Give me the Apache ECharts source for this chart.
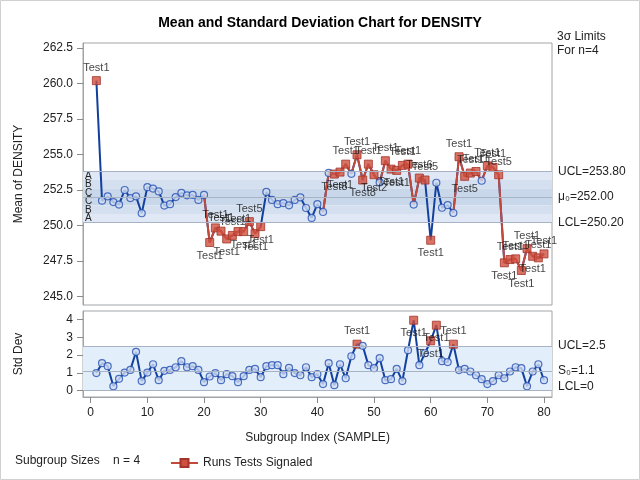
<!DOCTYPE html>
<html>
<head>
<meta charset="utf-8">
<script src="https://cdn.jsdelivr.net/npm/echarts@6/dist/echarts.min.js"></script>
<style>
  html, body { margin: 0; padding: 0; background: #fff; }
  #main { width: 640px; height: 480px; }
</style>
</head>
<body>
<div id="main"></div>
<script>
// 子组均值 (1..80)
var means = [
  260.2, 251.75, 252.05, 251.65, 251.47, 252.5, 251.93, 252.05, 250.86, 252.7,
  252.6, 252.4, 251.4, 251.5, 252.0, 252.3, 252.12, 252.15, 251.8, 252.15,
  248.8, 249.83, 249.6, 249.05, 249.3, 249.57, 249.57, 250.27, 249.43, 249.92,
  252.36, 251.8, 251.5, 251.58, 251.42, 251.8, 251.98, 251.23, 250.53, 251.5,
  250.95, 253.7, 253.62, 253.76, 254.32, 253.64, 254.98, 253.2, 254.32, 253.57,
  253.03, 254.56, 253.97, 253.88, 254.23, 254.32, 251.47, 253.34, 253.2, 248.96,
  253.01, 251.25, 251.44, 250.88, 254.84, 253.46, 253.69, 253.8, 253.15, 254.2,
  254.09, 253.57, 247.37, 247.6, 247.65, 246.83, 248.37, 247.83, 247.72, 248.0
];

// 子组标准差 (1..80)
var stds = [
  0.98, 1.54, 1.37, 0.24, 0.66, 1.01, 1.16, 2.18, 0.53, 1.01,
  1.48, 0.58, 1.11, 1.16, 1.31, 1.65, 1.31, 1.37, 1.16, 0.47,
  0.79, 0.98, 0.58, 0.92, 0.81, 0.47, 0.81, 1.16, 1.22, 0.75,
  1.37, 1.43, 1.43, 0.92, 1.28, 0.98, 0.86, 1.31, 0.75, 0.92,
  0.36, 1.54, 0.30, 1.48, 0.69, 1.93, 2.61, 2.52, 1.43, 1.26,
  1.82, 0.58, 0.64, 1.22, 0.53, 2.27, 3.96, 1.43, 2.10, 2.80,
  3.68, 1.65, 1.60, 2.61, 1.15, 1.22, 1.07, 0.86, 0.64, 0.36,
  0.53, 0.86, 0.69, 1.07, 1.31, 1.26, 0.24, 1.07, 1.48, 0.58
];

// 检验信号: [子组号, 检验名]
var meanSignals = [
  [1, 'Test1'], [21, 'Test1'], [22, 'Test1'], [23, 'Test1'], [24, 'Test1'],
  [25, 'Test1'], [26, 'Test1'], [27, 'Test1'], [28, 'Test5'], [29, 'Test1'],
  [30, 'Test1'], [43, 'Test8'], [44, 'Test1'], [45, 'Test1'], [47, 'Test1'],
  [48, 'Test8'], [49, 'Test1'], [50, 'Test2'], [52, 'Test1'], [53, 'Test1'],
  [54, 'Test1'], [55, 'Test1'], [56, 'Test1'], [58, 'Test6'], [59, 'Test5'],
  [60, 'Test1'], [65, 'Test1'], [66, 'Test5'], [67, 'Test1'], [68, 'Test1'],
  [70, 'Test1'], [71, 'Test1'], [72, 'Test5'], [73, 'Test1'], [74, 'Test1'],
  [75, 'Test1'], [76, 'Test1'], [77, 'Test1'], [78, 'Test1'], [79, 'Test1'],
  [80, 'Test1']
];
var stdSignals = [[47, 'Test1'], [57, 'Test1'], [60, 'Test1'], [61, 'Test1'], [64, 'Test1']];

// 被判异常的连续段(红线)
var meanRuns = [[20, 30], [41, 59], [64, 80]];

// 控制限
var meanLCL = 250.2, meanCenter = 252.0, meanUCL = 253.8;
var stdLCL = 0, stdCenter = 1.1, stdUCL = 2.5;

// 刻度
var meanTicks = [245, 247.5, 250, 252.5, 255, 257.5, 260, 262.5];
var stdTicks = [0, 1, 2, 3, 4];
var xTicks = [0, 10, 20, 30, 40, 50, 60, 70, 80];

// 标签放在点下方的子组
var meanBelow = [21, 24, 27, 29, 30, 43, 44, 48, 50, 53, 54, 60, 66, 73, 76, 78];
var stdBelow = [57, 60, 61];

var FONT = 'Liberation Sans, Arial, sans-serif';
var BLUE = '#12409f';
var RED = '#c4493a';

function lookup(list, i) {
  for (var k = 0; k < list.length; k++) if (list[k][0] === i) return list[k][1];
  return null;
}

function pointData(vals, signals, below) {
  return vals.map(function(v, k) {
    var i = k + 1;
    var t = lookup(signals, i);
    if (!t) {
      return {
        value: [i, v], symbol: 'circle', symbolSize: 7,
        itemStyle: { color: '#cfdcf2', borderColor: '#2650b2', borderWidth: 1.2 }
      };
    }
    return {
      value: [i, v], symbol: 'rect', symbolSize: 8,
      itemStyle: { color: '#d0503f', borderColor: '#a3352a', borderWidth: 1 },
      label: {
        show: true, formatter: t, position: below.indexOf(i) >= 0 ? 'bottom' : 'top',
        distance: 3, fontSize: 11, color: '#111', fontFamily: FONT
      }
    };
  });
}

function inRun(i) {
  return meanRuns.some(function(r) { return i >= r[0] && i <= r[1]; });
}

var meanLine = means.map(function(v, k) { return [k + 1, v]; });
var meanRed = means.map(function(v, k) { return [k + 1, inRun(k + 1) ? v : '-']; });
var stdLine = stds.map(function(v, k) { return [k + 1, v]; });

// 分区 A/B/C
var sigma = (meanUCL - meanCenter) / 3;
var zoneColors = { A: '#dfe8f4', B: '#d4e0ef', C: '#c9d7ea' };
function zone(name, lo, hi) {
  return [
    { name: name, yAxis: lo, itemStyle: { color: zoneColors[name] } },
    { yAxis: hi }
  ];
}
var zones = [
  zone('A', meanCenter + 2 * sigma, meanUCL),
  zone('B', meanCenter + sigma, meanCenter + 2 * sigma),
  zone('C', meanCenter, meanCenter + sigma),
  zone('C', meanCenter - sigma, meanCenter),
  zone('B', meanCenter - 2 * sigma, meanCenter - sigma),
  zone('A', meanLCL, meanCenter - 2 * sigma)
];

var limitLabel = { show: true, position: 'end', distance: 6, fontSize: 12, color: '#222', fontFamily: FONT };
var limitLine = { color: '#a7b3c4', width: 1, type: 'solid' };

var axisText = { fontSize: 12, color: '#222', fontFamily: FONT };
var tickStyle = { show: true, inside: false, length: 6, lineStyle: { color: '#8a8a8a' } };

var chart = echarts.init(document.getElementById('main'));

var option = {
  animation: false,
  backgroundColor: '#fff',
  textStyle: { fontFamily: FONT },
  title: {
    text: 'Mean and Standard Deviation Chart for DENSITY',
    left: 'center', top: 11,
    textStyle: { fontSize: 14, fontWeight: 'bold', color: '#000', fontFamily: FONT }
  },
  grid: [
    { left: 83, top: 43, width: 469, height: 262, show: true, borderColor: '#a0a4a8', borderWidth: 1, backgroundColor: '#fff' },
    { left: 83, top: 311, width: 469, height: 86, show: true, borderColor: '#a0a4a8', borderWidth: 1, backgroundColor: '#fff' }
  ],
  xAxis: [
    {
      type: 'value', gridIndex: 0, min: -1.36, max: 81.41,
      axisLine: { show: false }, axisTick: { show: false }, axisLabel: { show: false }, splitLine: { show: false }
    },
    {
      type: 'value', gridIndex: 1, min: -1.36, max: 81.41, position: 'bottom',
      axisLine: { show: true, onZero: false, lineStyle: { color: '#a0a4a8' } },
      axisTick: Object.assign({ customValues: xTicks }, tickStyle),
      axisLabel: Object.assign({ customValues: xTicks, margin: 10 }, axisText),
      splitLine: { show: false },
      name: 'Subgroup Index (SAMPLE)', nameLocation: 'middle', nameGap: 35,
      nameTextStyle: axisText
    }
  ],
  yAxis: [
    {
      type: 'value', gridIndex: 0, min: 244.40, max: 262.85, position: 'left',
      axisLine: { show: true, onZero: false, lineStyle: { color: '#a0a4a8' } },
      axisTick: Object.assign({ customValues: meanTicks }, tickStyle),
      axisLabel: Object.assign({ customValues: meanTicks, margin: 10, formatter: function(v) { return v.toFixed(1); } }, axisText),
      splitLine: { show: false },
      name: 'Mean of DENSITY', nameLocation: 'middle', nameGap: 58,
      nameTextStyle: axisText
    },
    {
      type: 'value', gridIndex: 1, min: -0.366, max: 4.48, position: 'left',
      axisLine: { show: true, onZero: false, lineStyle: { color: '#a0a4a8' } },
      axisTick: Object.assign({ customValues: stdTicks }, tickStyle),
      axisLabel: Object.assign({ customValues: stdTicks, margin: 10 }, axisText),
      splitLine: { show: false },
      name: 'Std Dev', nameLocation: 'middle', nameGap: 58,
      nameTextStyle: axisText
    }
  ],
  legend: {
    data: ['Runs Tests Signaled'],
    left: 165, top: 452,
    itemWidth: 27, itemHeight: 10, itemGap: 6,
    textStyle: { fontSize: 12, color: '#222', fontFamily: FONT }
  },
  graphic: [
    { type: 'rect', shape: { x: 0.5, y: 0.5, width: 639, height: 479 }, style: { fill: 'none', stroke: '#d0d0d0', lineWidth: 1 }, silent: true },
    { type: 'text', left: 557, top: 31, style: { text: '3σ Limits', font: '12px ' + FONT, fill: '#222' } },
    { type: 'text', left: 557, top: 45, style: { text: 'For n=4', font: '12px ' + FONT, fill: '#222' } },
    { type: 'text', left: 15, top: 455, style: { text: 'Subgroup Sizes    n = 4', font: '12px ' + FONT, fill: '#222' } }
  ],
  series: [
    {
      name: 'means', type: 'line', xAxisIndex: 0, yAxisIndex: 0,
      data: meanLine, showSymbol: false, z: 2, silent: true,
      lineStyle: { color: BLUE, width: 2 },
      markArea: {
        silent: true,
        label: { show: true, position: 'insideLeft', distance: 2, fontSize: 10, color: '#222', fontFamily: FONT },
        data: zones
      },
      markLine: {
        silent: true, symbol: 'none', lineStyle: limitLine, label: limitLabel,
        data: [
          { yAxis: meanUCL, label: { formatter: 'UCL=' + meanUCL.toFixed(2) } },
          { yAxis: meanCenter, label: { formatter: 'μ₀=' + meanCenter.toFixed(2) } },
          { yAxis: meanLCL, label: { formatter: 'LCL=' + meanLCL.toFixed(2) } }
        ]
      }
    },
    {
      name: 'meanRuns', type: 'line', xAxisIndex: 0, yAxisIndex: 0,
      data: meanRed, showSymbol: false, z: 3, silent: true, connectNulls: false,
      lineStyle: { color: RED, width: 2 }
    },
    {
      name: 'meanPts', type: 'scatter', xAxisIndex: 0, yAxisIndex: 0,
      data: pointData(means, meanSignals, meanBelow), z: 4, silent: true
    },
    {
      name: 'stds', type: 'line', xAxisIndex: 1, yAxisIndex: 1,
      data: stdLine, showSymbol: false, z: 2, silent: true,
      lineStyle: { color: BLUE, width: 2 },
      markArea: {
        silent: true,
        data: [[{ yAxis: stdLCL, itemStyle: { color: '#e3eefb' } }, { yAxis: stdUCL }]]
      },
      markLine: {
        silent: true, symbol: 'none', lineStyle: limitLine, label: limitLabel,
        data: [
          { yAxis: stdUCL, label: { formatter: 'UCL=' + stdUCL } },
          { yAxis: stdCenter, label: { formatter: 'S₀=' + stdCenter } },
          { yAxis: stdLCL, label: { formatter: 'LCL=' + stdLCL, offset: [0, -4] } }
        ]
      }
    },
    {
      name: 'stdPts', type: 'scatter', xAxisIndex: 1, yAxisIndex: 1,
      data: pointData(stds, stdSignals, stdBelow), z: 4, silent: true
    },
    {
      name: 'Runs Tests Signaled', type: 'line', xAxisIndex: 1, yAxisIndex: 1,
      data: [], symbol: 'rect', symbolSize: 9,
      itemStyle: { color: '#d0503f', borderColor: '#a3352a', borderWidth: 1 },
      lineStyle: { color: RED, width: 2 }
    }
  ]
};

chart.setOption(option);
</script>
</body>
</html>
